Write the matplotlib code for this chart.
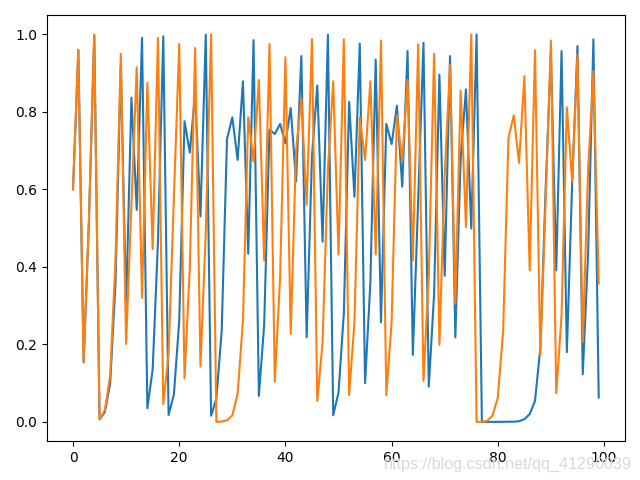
import matplotlib
matplotlib.use("Agg")
import matplotlib.pyplot as plt

# two logistic-map style trajectories
steps = list(range(100))

blue = [0.6, 0.96, 0.1536, 0.520, 0.9984, 0.0064, 0.0255, 0.0993, 0.3577, 0.919,
        0.2979, 0.8366, 0.547, 0.991, 0.035, 0.135, 0.466, 0.995, 0.018, 0.071,
        0.26, 0.776, 0.695, 0.85, 0.53, 0.999, 0.016, 0.06, 0.235, 0.73,
        0.786, 0.676, 0.879, 0.434, 0.985, 0.067, 0.25, 0.754, 0.743, 0.769,
        0.719, 0.81, 0.62, 0.944, 0.218, 0.685, 0.868, 0.465, 0.999, 0.017,
        0.076, 0.28, 0.826, 0.581, 0.976, 0.100, 0.36, 0.935, 0.257, 0.769,
        0.717, 0.816, 0.607, 0.957, 0.173, 0.572, 0.978, 0.091, 0.33, 0.896,
        0.377, 0.944, 0.218, 0.68, 0.858, 0.499, 1.0, 0.0, 0.0, 0.0,
        0.0001, 0.0002, 0.0005, 0.0005, 0.0018, 0.007, 0.02, 0.054, 0.19, 0.6,
        0.95, 0.391, 0.957, 0.18, 0.616, 0.970, 0.123, 0.434, 0.987, 0.063]

orange = [0.6, 0.96, 0.154, 0.52, 0.999, 0.007, 0.03, 0.12, 0.42, 0.95,
          0.201, 0.56, 0.915, 0.320, 0.875, 0.446, 0.991, 0.046, 0.176, 0.579,
          0.975, 0.112, 0.398, 0.965, 0.143, 0.49, 1.0, 0.0003, 0.001, 0.004,
          0.017, 0.072, 0.26, 0.786, 0.672, 0.882, 0.417, 0.975, 0.104, 0.373,
          0.941, 0.227, 0.70, 0.834, 0.56, 0.988, 0.054, 0.205, 0.65, 0.879,
          0.432, 0.987, 0.069, 0.257, 0.786, 0.676, 0.879, 0.432, 0.984, 0.069,
          0.257, 0.791, 0.672, 0.883, 0.417, 0.974, 0.106, 0.38, 0.950, 0.199,
          0.64, 0.921, 0.305, 0.855, 0.503, 1.0, 0.0, 0.0003, 0.003, 0.016,
          0.063, 0.235, 0.732, 0.791, 0.668, 0.892, 0.391, 0.959, 0.171, 0.567,
          0.984, 0.074, 0.274, 0.812, 0.62, 0.948, 0.206, 0.65, 0.905, 0.357]

fig, ax = plt.subplots(figsize=(6.4, 4.8), dpi=100)
ax.plot(steps, blue)
ax.plot(steps, orange)
plt.tight_layout()

# blog watermark in the lower right corner
fig.text(0.988, 0.032, "https://blog.csdn.net/qq_41290039", ha="right", va="center",
         fontsize=11.6, color="#d8d8d8", family="Liberation Sans")

fig.savefig("out.png")
